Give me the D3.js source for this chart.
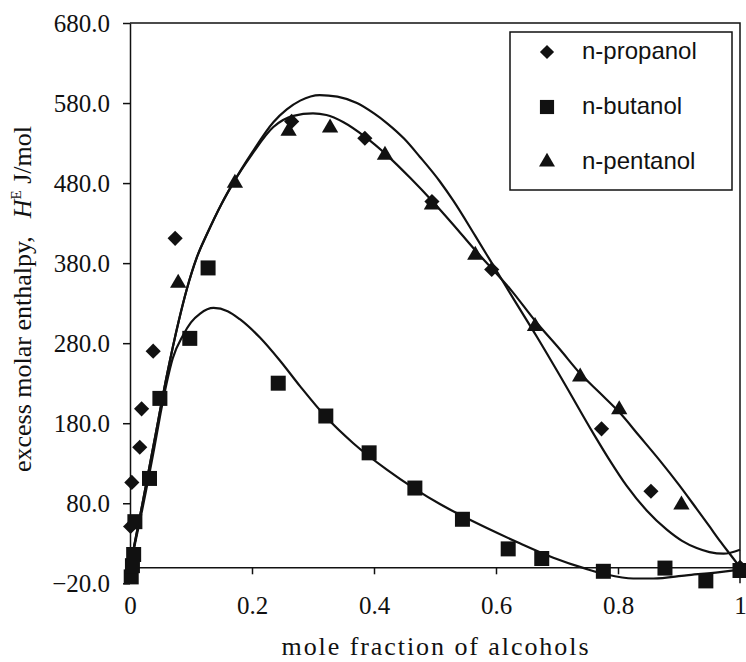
<!DOCTYPE html>
<html>
<head>
<meta charset="utf-8">
<script src="https://cdn.jsdelivr.net/npm/d3@7"></script>
<style>
  body { margin: 0; background: #fff; }
  svg { display: block; }
</style>
</head>
<body>
<svg id="chart"></svg>
<script>
// measured points, mole fraction vs H^E (J/mol)
const propanolX = [0.001, 0.003, 0.016, 0.019, 0.038, 0.074, 0.265, 0.385, 0.495, 0.593, 0.773, 0.854, 1.0];
const propanolY = [51, 106, 150, 198, 270, 411, 557, 536, 457, 372, 173, 95, 0];

const butanolX = [0.002, 0.004, 0.006, 0.008, 0.032, 0.049, 0.098, 0.128, 0.243, 0.321, 0.392, 0.467, 0.545, 0.62, 0.675, 0.776, 0.877, 0.944, 1.0];
const butanolY = [-12, 2, 16, 57, 111, 211, 286, 374, 230, 189, 143, 99, 60, 23, 11, -5, -1, -17, -4];

const pentanolX = [0.079, 0.172, 0.26, 0.328, 0.418, 0.495, 0.566, 0.664, 0.738, 0.802, 0.904];
const pentanolY = [355, 480, 545, 549, 515, 453, 390, 301, 238, 197, 78];

// fitted curves
const fitAX = [0, 0.02, 0.04, 0.06, 0.08, 0.093, 0.11, 0.126, 0.15, 0.169, 0.2, 0.235, 0.257, 0.279, 0.311, 0.34, 0.372, 0.4, 0.421, 0.45, 0.475, 0.508, 0.53, 0.566, 0.59, 0.625, 0.667, 0.712, 0.759, 0.787, 0.814, 0.847, 0.88, 0.905, 0.929, 0.95, 0.973, 1.0];
const fitAY = [0, 78, 158, 238, 308, 347, 388, 416, 454, 480, 518, 556, 572, 583, 590, 588, 580, 567, 555, 535, 513, 482, 458, 414, 384, 340, 288, 230, 168, 133, 102, 71, 47, 33, 24, 19, 17, 22];

const fitBX = [0, 0.02, 0.04, 0.06, 0.08, 0.093, 0.11, 0.126, 0.15, 0.169, 0.2, 0.235, 0.268, 0.3, 0.322, 0.35, 0.385, 0.421, 0.46, 0.495, 0.53, 0.566, 0.59, 0.625, 0.664, 0.705, 0.738, 0.77, 0.803, 0.835, 0.869, 0.9, 0.929, 0.95, 0.967, 0.985, 1.0];
const fitBY = [0, 78, 158, 238, 308, 347, 388, 416, 454, 480, 516, 550, 564, 567, 565, 556, 538, 515, 486, 458, 428, 396, 376, 346, 308, 272, 242, 218, 193, 164, 133, 103, 73, 51, 33, 15, 0];

const fitCX = [0, 0.02, 0.04, 0.05, 0.06, 0.07, 0.087, 0.1, 0.115, 0.137, 0.16, 0.18, 0.213, 0.246, 0.279, 0.321, 0.366, 0.421, 0.467, 0.508, 0.545, 0.585, 0.639, 0.694, 0.748, 0.781, 0.825, 0.858, 0.912, 0.967, 1.0];
const fitCY = [0, 72, 150, 192, 230, 261, 290, 306, 317, 324, 320, 310, 287, 258, 226, 188, 155, 122, 98, 79, 64, 49, 30, 12, -2, -9, -14, -14, -10, -6, -3];

const xTicks = [0, 0.2, 0.4, 0.6, 0.8, 1];
const yTicks = [-20, 80, 180, 280, 380, 480, 580, 680];
const legendLabels = ["n-propanol", "n-butanol", "n-pentanol"];

const width = 746;
const height = 662;
const ink = "#111";

const svg = d3.select("#chart")
    .attr("width", width)
    .attr("height", height)
    .style("background", "#fff");

const x = d3.scaleLinear().domain([0, 1]).range([130, 740]);
const y = d3.scaleLinear().domain([-20, 680]).range([583.3, 23]);

const zip = (xs, ys) => xs.map((v, i) => ({ x: v, y: ys[i] }));

// frame: top and right border
svg.append("path")
    .attr("d", `M${x(0)},${y(680)}H${x(1)}V${y(-20)}`)
    .attr("fill", "none")
    .attr("stroke", ink)
    .attr("stroke-width", 1.5);

// y axis
const yAxis = svg.append("g")
    .attr("transform", `translate(${x(0)},0)`)
    .call(d3.axisLeft(y).tickValues(yTicks).tickFormat(d3.format(".1f")).tickSize(7).tickSizeOuter(0).tickPadding(13));

// x axis sits on zero
const xAxis = svg.append("g")
    .attr("transform", `translate(0,${y(0)})`)
    .call(d3.axisBottom(x).tickValues(xTicks).tickFormat(d => d === 0 || d === 1 ? d : d3.format(".1f")(d)).tickSize(7).tickSizeOuter(0).tickPadding(22));

[yAxis, xAxis].forEach(g => {
    g.selectAll("path, line").attr("stroke", ink).attr("stroke-width", 1.5);
    g.selectAll("text")
        .attr("fill", ink)
        .style("font-family", "'Liberation Serif', 'Times New Roman', serif")
        .style("font-size", "25px");
});

// fitted curves
const line = d3.line()
    .x(d => x(d.x))
    .y(d => y(d.y))
    .curve(d3.curveMonotoneX);

[zip(fitAX, fitAY), zip(fitBX, fitBY), zip(fitCX, fitCY)].forEach(pts => {
    svg.append("path")
        .datum(pts)
        .attr("d", line)
        .attr("fill", "none")
        .attr("stroke", ink)
        .attr("stroke-width", 2.2);
});

// markers
const diamond = d3.symbol().type(d3.symbolSquare).size(115);
const square = d3.symbol().type(d3.symbolSquare).size(225);
const triangle = d3.symbol().type(d3.symbolTriangle).size(115);

const series = [
    { pts: zip(propanolX, propanolY), path: diamond(), rot: 45 },
    { pts: zip(butanolX, butanolY), path: square(), rot: 0 },
    { pts: zip(pentanolX, pentanolY), path: triangle(), rot: 0 },
];

series.forEach(s => {
    svg.append("g")
        .selectAll("path")
        .data(s.pts)
        .enter()
        .append("path")
        .attr("d", s.path)
        .attr("transform", d => `translate(${x(d.x)},${y(d.y)}) rotate(${s.rot})`)
        .attr("fill", ink);
});

// legend
const legend = svg.append("g");
legend.append("rect")
    .attr("x", 510).attr("y", 32)
    .attr("width", 222).attr("height", 158)
    .attr("fill", "#fff")
    .attr("stroke", ink)
    .attr("stroke-width", 1.5);

const legendPaths = [
    d3.symbol().type(d3.symbolSquare).size(100)(),
    d3.symbol().type(d3.symbolSquare).size(200)(),
    d3.symbol().type(d3.symbolTriangle).size(110)(),
];

legendLabels.forEach((lab, i) => {
    const cy = 52 + i * 55;
    legend.append("path")
        .attr("d", legendPaths[i])
        .attr("transform", `translate(547,${cy}) rotate(${i === 0 ? 45 : 0})`)
        .attr("fill", ink);
    legend.append("text")
        .attr("x", 582)
        .attr("y", cy + 7)
        .attr("fill", ink)
        .style("font-family", "'Liberation Sans', Arial, sans-serif")
        .style("font-size", "24px")
        .text(lab);
});

// axis titles
svg.append("text")
    .attr("x", x(0.5))
    .attr("y", 655)
    .attr("text-anchor", "middle")
    .attr("textLength", 307)
    .attr("lengthAdjust", "spacing")
    .attr("fill", ink)
    .style("font-family", "'Liberation Serif', 'Times New Roman', serif")
    .style("font-size", "26px")
    .text("mole fraction of alcohols");

const yTitle = svg.append("text")
    .attr("transform", "translate(31,299) rotate(-90)")
    .attr("text-anchor", "middle")
    .attr("fill", ink)
    .style("font-family", "'Liberation Serif', 'Times New Roman', serif")
    .style("font-size", "26px");
yTitle.append("tspan").text("excess molar enthalpy,");
yTitle.append("tspan").attr("dx", 18).style("font-style", "italic").text("H");
yTitle.append("tspan").attr("dy", -10).style("font-size", "15px").text("E");
yTitle.append("tspan").attr("dy", 10).text(" J/mol");
</script>
</body>
</html>
